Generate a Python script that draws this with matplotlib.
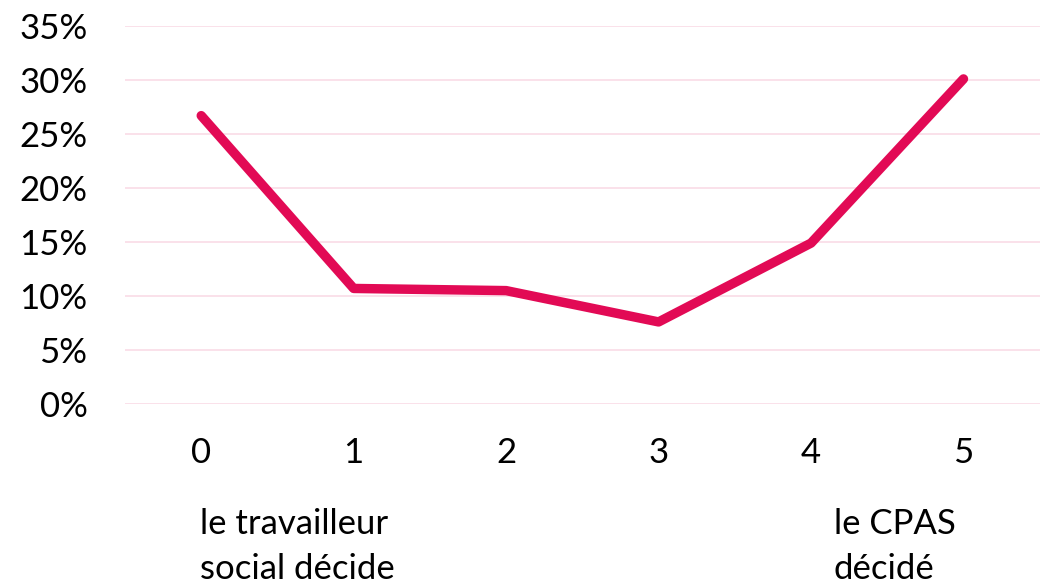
import matplotlib.pyplot as plt
from matplotlib.ticker import FuncFormatter
import matplotlib.transforms as mtransforms

# --- données ---
positions = [0, 1, 2, 3, 4, 5]
values = [26.7, 10.7, 10.5, 7.6, 14.9, 30.1]
y_ticks = [0, 5, 10, 15, 20, 25, 30, 35]
left_label = "le travailleur\nsocial décide"
right_label = "le CPAS\ndécidé"

plt.rcParams['font.family'] = ['Lato', 'DejaVu Sans']

fig = plt.figure(figsize=(10.46, 5.88), dpi=100)
ax = fig.add_axes([0.1195, 0.3129, 0.8745, 0.6429])

ax.plot(positions, values, color='#e20a55', linewidth=6.8,
        solid_capstyle='round', solid_joinstyle='round', zorder=3)

ax.set_ylim(0, 35)
ax.set_xlim(-0.5, 5.5)
ax.set_yticks(y_ticks)
ax.yaxis.set_major_formatter(FuncFormatter(lambda v, p: f'{v:.0f}%'))
ax.set_xticks(positions)
ax.grid(axis='y', color='#fadbe6', linewidth=1.2)
ax.set_axisbelow(True)
for s in ax.spines.values():
    s.set_visible(False)
ax.tick_params(length=0, labelsize=25, colors='black')
ax.tick_params(axis='y', pad=27)
ax.tick_params(axis='x', pad=24)

trans = mtransforms.blended_transform_factory(ax.transData, fig.transFigure)
ax.text(-0.01, 0.07, left_label, transform=trans, ha='left', va='center',
        fontsize=25, linespacing=1.5)
ax.text(4.15, 0.07, right_label, transform=trans, ha='left', va='center',
        fontsize=25, linespacing=1.5)

plt.savefig('out.png', dpi=100)
